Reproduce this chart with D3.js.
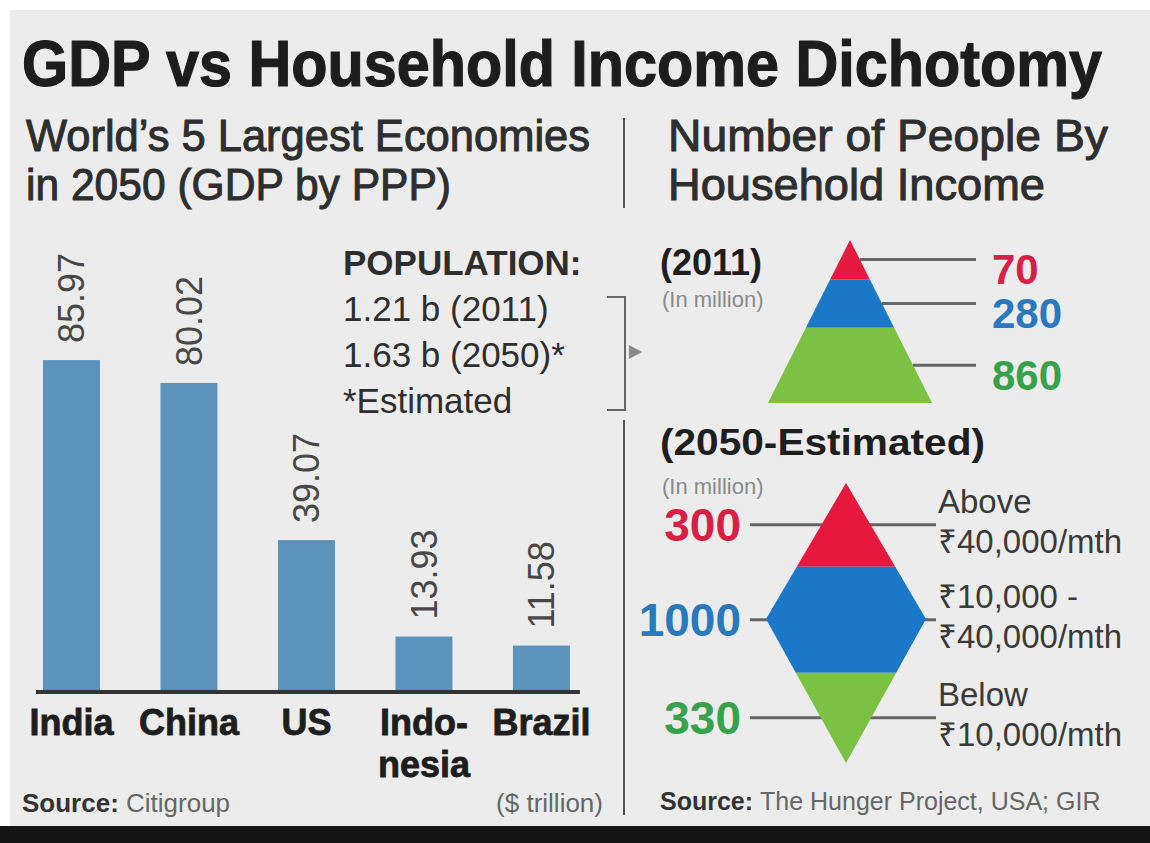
<!DOCTYPE html>
<html>
<head>
<meta charset="utf-8">
<script src="https://cdn.jsdelivr.net/npm/d3@7"></script>
<style>
  body { margin: 0; background: #fff; }
  text { font-family: "Liberation Sans", Arial, sans-serif; }
  .narrow { font-family: "Liberation Sans Narrow", "Liberation Sans", sans-serif; }
</style>
</head>
<body>
<svg id="chart"></svg>
<script>
// GDP bars
var countries = ["India", "China", "US", "Indonesia", "Brazil"];
var countryLines = [["India"], ["China"], ["US"], ["Indo-", "nesia"], ["Brazil"]];
var gdp = [85.97, 80.02, 39.07, 13.93, 11.58];

var populationNotes = ["POPULATION:", "1.21 b (2011)", "1.63 b (2050)*", "*Estimated"];

// household income pyramids (in million)
var incomeGroups = ["high", "middle", "low"];
var people2011 = [70, 280, 860];
var people2050 = [300, 1000, 330];
var incomeLines = [["Above", "\u20b940,000/mth"], ["\u20b910,000 -", "\u20b940,000/mth"], ["Below", "\u20b910,000/mth"]];
var shapeColors = ["#e5183d", "#1b78c9", "#7bc143"];
var labelColors = ["#d81f45", "#2a78bd", "#37a24b"];

var svgWidth = 1150;
var svgHeight = 843;
var svg = d3.select("#chart")
  .attr("width", svgWidth)
  .attr("height", svgHeight);

// background
svg.append("rect").attr("width", svgWidth).attr("height", svgHeight).attr("fill", "#fff");
svg.append("rect").attr("x", 10).attr("y", 10).attr("width", 1140).attr("height", 816).attr("fill", "#ececec");
svg.append("rect").attr("x", 0).attr("y", 826).attr("width", svgWidth).attr("height", 17).attr("fill", "#151515");

// titles
svg.append("text").attr("class", "narrow")
  .attr("x", 22).attr("y", 86)
  .attr("font-size", 64).attr("font-weight", "bold").attr("fill", "#1d1d1d")
  .attr("stroke", "#1d1d1d").attr("stroke-width", 1.2)
  .attr("textLength", 1080).attr("lengthAdjust", "spacingAndGlyphs")
  .text("GDP vs Household Income Dichotomy");

var subs = [
  {t: "World\u2019s 5 Largest Economies", x: 26, y: 151, w: 564},
  {t: "in 2050 (GDP by PPP)", x: 26, y: 200, w: 425},
  {t: "Number of People By", x: 668, y: 151, w: 440},
  {t: "Household Income", x: 668, y: 200, w: 377}
];
svg.selectAll(".sub").data(subs).enter().append("text")
  .attr("class", "narrow sub")
  .attr("x", function(d) { return d.x; })
  .attr("y", function(d) { return d.y; })
  .attr("font-size", 44).attr("fill", "#2e2e2e")
  .attr("stroke", "#2e2e2e").attr("stroke-width", 1)
  .attr("textLength", function(d) { return d.w; })
  .attr("lengthAdjust", "spacingAndGlyphs")
  .text(function(d) { return d.t; });

// dividers
svg.append("line").attr("x1", 624).attr("x2", 624).attr("y1", 118).attr("y2", 208)
  .attr("stroke", "#555").attr("stroke-width", 2);
svg.append("line").attr("x1", 624).attr("x2", 624).attr("y1", 420).attr("y2", 815)
  .attr("stroke", "#555").attr("stroke-width", 2);
// bracket + arrow
svg.append("path").attr("d", "M607,297H625V410H607")
  .attr("fill", "none").attr("stroke", "#666").attr("stroke-width", 2);
svg.append("path").attr("d", "M629,345L642,352L629,359Z").attr("fill", "#888");

// ---- bar chart ----
var x = d3.scaleBand().domain(countries)
  .range([13.6, 599.3]).paddingInner(0.515).paddingOuter(0.25);
var y = d3.scaleLinear().domain([0, 86]).range([690, 360]);

svg.selectAll(".bar").data(gdp).enter().append("rect")
  .attr("class", "bar")
  .attr("x", function(d, i) { return x(countries[i]); })
  .attr("y", function(d) { return y(d); })
  .attr("width", x.bandwidth())
  .attr("height", function(d) { return y(0) - y(d); })
  .attr("fill", "#5b93ba");

svg.append("line")
  .attr("x1", x(countries[0]) - 7).attr("x2", x(countries[4]) + x.bandwidth() + 10)
  .attr("y1", y(0) + 2).attr("y2", y(0) + 2)
  .attr("stroke", "#333").attr("stroke-width", 4);

svg.selectAll(".val").data(gdp).enter().append("text")
  .attr("class", "val")
  .attr("transform", function(d, i) {
    return "translate(" + (x(countries[i]) + x.bandwidth() / 2) + "," + (y(d) - 17) + ") rotate(-90)";
  })
  .attr("dy", "0.35em")
  .attr("font-size", 36).attr("fill", "#474747")
  .text(function(d) { return d3.format(".2f")(d); });

var cat = svg.selectAll(".cat").data(countryLines).enter().append("text")
  .attr("class", "cat")
  .attr("text-anchor", "middle")
  .attr("font-size", 36).attr("font-weight", "bold").attr("fill", "#1e1e1e")
  .attr("stroke", "#1e1e1e").attr("stroke-width", 0.8)
  .attr("transform", function(d, i) {
    return "translate(" + (x(countries[i]) + x.bandwidth() / 2) + ",735)";
  });
cat.selectAll("tspan").data(function(d) { return d; }).enter().append("tspan")
  .attr("x", 0).attr("y", function(d, j) { return j * 42; })
  .text(function(d) { return d; });

// population note
svg.selectAll(".pop").data(populationNotes).enter().append("text")
  .attr("class", "pop")
  .attr("x", 343).attr("y", function(d, i) { return 275 + i * 46; })
  .attr("font-size", 35).attr("fill", "#2e2e2e")
  .attr("font-weight", function(d, i) { return i === 0 ? "bold" : "normal"; })
  .text(function(d) { return d; });

// sources
var s1 = svg.append("text").attr("x", 22).attr("y", 812).attr("font-size", 26).attr("fill", "#666");
s1.append("tspan").attr("font-weight", "bold").attr("fill", "#333").text("Source: ");
s1.append("tspan").text("Citigroup");
svg.append("text").attr("x", 603).attr("y", 812).attr("text-anchor", "end")
  .attr("font-size", 26).attr("fill", "#666").text("($ trillion)");
var s2 = svg.append("text").attr("x", 660).attr("y", 810).attr("font-size", 25).attr("fill", "#666");
s2.append("tspan").attr("font-weight", "bold").attr("fill", "#333").text("Source: ");
s2.append("tspan").text("The Hunger Project, USA; GIR");

// ---- 2011 pyramid ----
svg.append("text").attr("x", 660).attr("y", 275).attr("font-size", 36)
  .attr("font-weight", "bold").attr("fill", "#1e1e1e").text("(2011)");
svg.append("text").attr("x", 662).attr("y", 307).attr("font-size", 22)
  .attr("fill", "#8a8a8a").text("(In million)");

var p = {cx: 850, top: 240, h: 163, half: 82};
var cum11 = [0].concat(Array.from(d3.cumsum(people2011)));
var depth11 = d3.scaleSqrt().domain([0, d3.sum(people2011)]).range([0, p.h]);
function halfAt(yy) { return (yy - p.top) / p.h * p.half; }

var seg11 = incomeGroups.map(function(g, i) {
  return {y0: p.top + depth11(cum11[i]), y1: p.top + depth11(cum11[i + 1]), v: people2011[i], i: i};
});

svg.selectAll(".lead11").data(seg11).enter().append("line")
  .attr("x1", function(d) { var m = (d.y0 + d.y1) / 2; return p.cx + halfAt(m); })
  .attr("x2", 976)
  .attr("y1", function(d) { return (d.y0 + d.y1) / 2; })
  .attr("y2", function(d) { return (d.y0 + d.y1) / 2; })
  .attr("stroke", "#666").attr("stroke-width", 3);

svg.selectAll(".seg11").data(seg11).enter().append("polygon")
  .attr("points", function(d) {
    var h0 = halfAt(d.y0), h1 = halfAt(d.y1);
    return [[p.cx - h0, d.y0], [p.cx + h0, d.y0], [p.cx + h1, d.y1], [p.cx - h1, d.y1]].join(" ");
  })
  .attr("fill", function(d) { return shapeColors[d.i]; });

svg.selectAll(".lab11").data(seg11).enter().append("text")
  .attr("x", 992)
  .attr("y", function(d) { return (d.y0 + d.y1) / 2 + 10; })
  .attr("dy", "0.35em")
  .attr("font-size", 42).attr("font-weight", "bold")
  .attr("fill", function(d) { return labelColors[d.i]; })
  .text(function(d) { return d.v; });

// ---- 2050 diamond ----
svg.append("text").attr("x", 660).attr("y", 455).attr("font-size", 37)
  .attr("font-weight", "bold").attr("fill", "#1e1e1e")
  .attr("textLength", 325).attr("lengthAdjust", "spacingAndGlyphs")
  .text("(2050-Estimated)");
svg.append("text").attr("x", 662).attr("y", 494).attr("font-size", 22)
  .attr("fill", "#8a8a8a").text("(In million)");

var dm = {cx: 846, top: 483, mid: 619, bottom: 763, half: 80};
var total50 = d3.sum(people2050);
var hTop = dm.mid - dm.top, hBot = dm.bottom - dm.mid;
var depthTop = d3.scaleSqrt().domain([0, total50 * hTop / (hTop + hBot)]).range([0, hTop]);
var depthBot = d3.scaleSqrt().domain([0, total50 * hBot / (hTop + hBot)]).range([0, hBot]);
var yr = dm.top + depthTop(people2050[0]);
var yg = dm.bottom - depthBot(people2050[2]);
var hr = (yr - dm.top) / hTop * dm.half;
var hg = (dm.bottom - yg) / hBot * dm.half;

var seg50 = [
  {i: 0, v: people2050[0], ym: (dm.top + yr) / 2,
   pts: [[dm.cx, dm.top], [dm.cx + hr, yr], [dm.cx - hr, yr]]},
  {i: 1, v: people2050[1], ym: (yr + yg) / 2,
   pts: [[dm.cx - hr, yr], [dm.cx + hr, yr], [dm.cx + dm.half, dm.mid], [dm.cx + hg, yg], [dm.cx - hg, yg], [dm.cx - dm.half, dm.mid]]},
  {i: 2, v: people2050[2], ym: (yg + dm.bottom) / 2,
   pts: [[dm.cx - hg, yg], [dm.cx + hg, yg], [dm.cx, dm.bottom]]}
];

svg.selectAll(".lead50").data(seg50).enter().append("line")
  .attr("x1", 750).attr("x2", 936)
  .attr("y1", function(d) { return d.ym; })
  .attr("y2", function(d) { return d.ym; })
  .attr("stroke", "#666").attr("stroke-width", 3);

svg.selectAll(".seg50").data(seg50).enter().append("polygon")
  .attr("points", function(d) { return d.pts.join(" "); })
  .attr("fill", function(d) { return shapeColors[d.i]; });

svg.selectAll(".lab50").data(seg50).enter().append("text")
  .attr("x", 741).attr("y", function(d) { return d.ym; })
  .attr("dy", "0.35em").attr("text-anchor", "end")
  .attr("font-size", 46).attr("font-weight", "bold")
  .attr("fill", function(d) { return labelColors[d.i]; })
  .text(function(d) { return d.v; });

var desc = svg.selectAll(".desc").data(seg50).enter().append("text")
  .attr("font-size", 33).attr("fill", "#3a3a3a");
desc.selectAll("tspan").data(function(d) {
    return incomeLines[d.i].map(function(t, j) { return {t: t, y: d.ym - 12 + j * 40}; });
  }).enter().append("tspan")
  .attr("x", 938).attr("y", function(d) { return d.y; })
  .text(function(d) { return d.t; });
</script>
</body>
</html>
